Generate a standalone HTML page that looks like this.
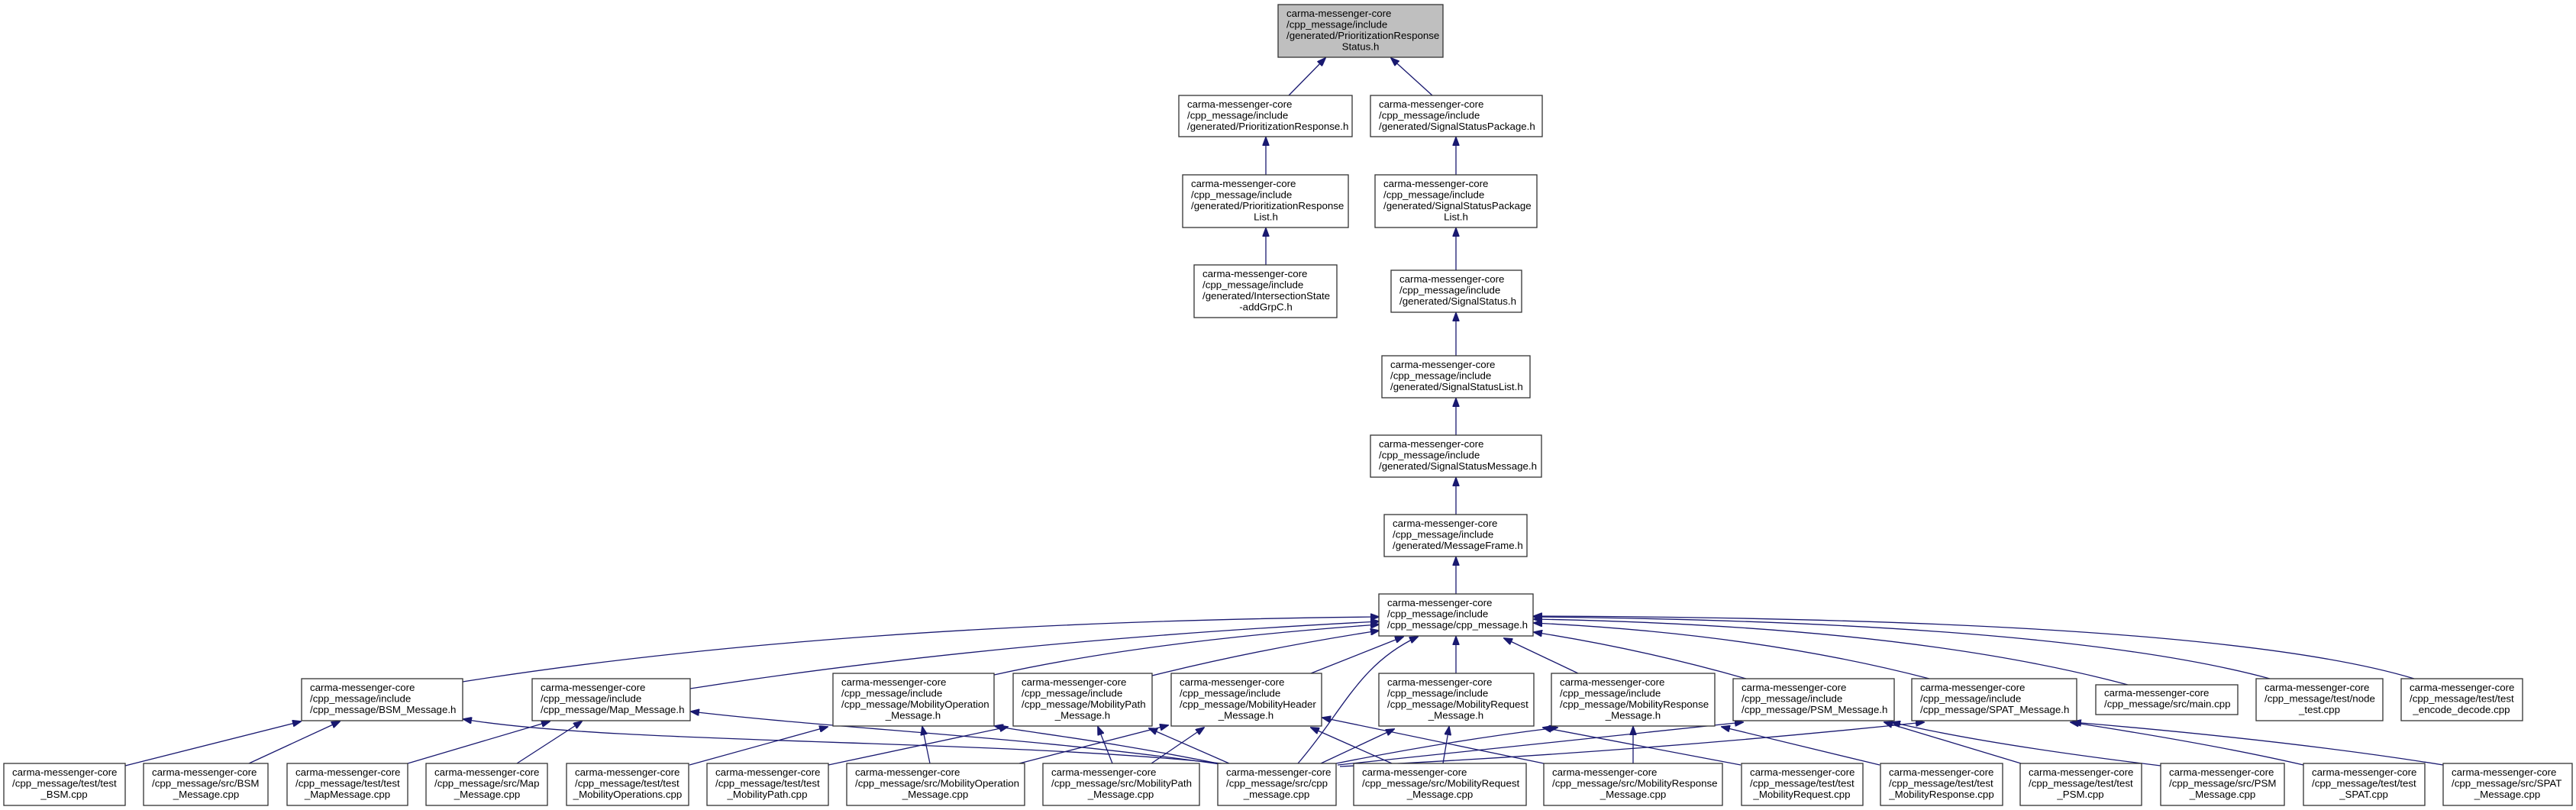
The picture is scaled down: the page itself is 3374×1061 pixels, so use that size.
<!DOCTYPE html>
<html><head><meta charset="utf-8"><style>
html,body{margin:0;padding:0;background:#fff;}
svg{display:block;}
text{font-family:"Liberation Sans",Arial,sans-serif;font-size:13.3px;fill:#000;}
.b{fill:#fff;stroke:#333;stroke-width:1.3;}
.e{fill:none;stroke:#191970;stroke-width:1.3;marker-end:url(#a);}
</style></head><body>
<svg width="3374" height="1061" viewBox="0 0 3374 1061" xmlns="http://www.w3.org/2000/svg">
<defs><marker id="a" viewBox="0 0 12 9" refX="11" refY="4.5" markerWidth="12" markerHeight="9" markerUnits="userSpaceOnUse" orient="auto"><path d="M0,0 L12,4.5 L0,9z" fill="#191970" stroke="#191970"/></marker></defs>

<!-- edges: top part -->
<path class="e" d="M1688,125 L1736,76"/>
<path class="e" d="M1876,125 L1822,76"/>
<path class="e" d="M1658,229 L1658,180"/>
<path class="e" d="M1658,347 L1658,299"/>
<path class="e" d="M1907,229 L1907,180"/>
<path class="e" d="M1907,354 L1907,299"/>
<path class="e" d="M1907,466 L1907,410"/>
<path class="e" d="M1907,570 L1907,522"/>
<path class="e" d="M1907,674 L1907,626"/>
<path class="e" d="M1907,778 L1907,730"/>

<!-- middle row -> cpp_message.h -->
<path class="e" d="M606,893 Q1100,815 1806,808"/>
<path class="e" d="M904,902 Q1300,840 1806,814"/>
<path class="e" d="M1302,884 Q1500,840 1806,818"/>
<path class="e" d="M1509,885 Q1650,850 1806,826"/>
<path class="e" d="M1717,882 L1838,834"/>
<path class="e" d="M1700,1000 C1760,930 1780,870 1857,834"/>
<path class="e" d="M1907,882 L1907,834"/>
<path class="e" d="M2067,882 L1970,836"/>
<path class="e" d="M2287,889 Q2150,850 2009,828"/>
<path class="e" d="M2527,889 Q2300,830 2009,816"/>
<path class="e" d="M2787,897 Q2500,820 2009,811"/>
<path class="e" d="M2973,889 Q2700,815 2009,808"/>
<path class="e" d="M3162,889 Q2900,810 2009,807"/>

<!-- bottom -> middle -->
<path class="e" d="M164,1003 L394,945"/>
<path class="e" d="M326,1000 L445,945"/>
<path class="e" d="M1600,1000 C1300,968 800,975 607,942"/>
<path class="e" d="M534,1000 L720,945"/>
<path class="e" d="M677,1000 L762,945"/>
<path class="e" d="M1605,1002 C1350,965 1100,955 905,932"/>
<path class="e" d="M903,1002 L1084,952"/>
<path class="e" d="M1218,1000 L1208,952"/>
<path class="e" d="M1610,1003 C1450,970 1350,960 1303,951"/>
<path class="e" d="M1085,1002 L1320,952"/>
<path class="e" d="M1457,1000 L1438,952"/>
<path class="e" d="M1610,1000 L1505,954"/>
<path class="e" d="M1335,1000 L1530,950"/>
<path class="e" d="M1508,1000 L1577,953"/>
<path class="e" d="M1823,1000 L1717,953"/>
<path class="e" d="M2022,1000 L1732,940"/>
<path class="e" d="M1890,1000 L1898,952"/>
<path class="e" d="M1730,1000 L1826,955"/>
<path class="e" d="M2280,1002 L2021,953"/>
<path class="e" d="M2139,1000 L2139,952"/>
<path class="e" d="M1750,1000 Q1900,970 2040,953"/>
<path class="e" d="M2462,1002 L2255,952"/>
<path class="e" d="M1752,1002 Q2000,975 2283,946"/>
<path class="e" d="M2647,1000 L2468,946"/>
<path class="e" d="M2830,1003 Q2600,975 2478,946"/>
<path class="e" d="M1755,1004 Q2150,985 2520,946"/>
<path class="e" d="M3017,1002 Q2900,975 2712,946"/>
<path class="e" d="M3200,1002 Q3000,970 2715,946"/>

<!-- nodes -->
<g>
<rect x="1674" y="6" width="216" height="69" style="fill:#bfbfbf;stroke:#333;stroke-width:1.3"/>
<text x="1685" y="22">carma-messenger-core</text><text x="1685" y="36.5">/cpp_message/include</text><text x="1685" y="51">/generated/PrioritizationResponse</text><text x="1782" y="65.5" text-anchor="middle">Status.h</text>

<rect class="b" x="1544" y="125" width="227" height="54"/>
<text x="1555" y="141">carma-messenger-core</text><text x="1555" y="155.5">/cpp_message/include</text><text x="1555" y="170">/generated/PrioritizationResponse.h</text>

<rect class="b" x="1795" y="125" width="225" height="54"/>
<text x="1806" y="141">carma-messenger-core</text><text x="1806" y="155.5">/cpp_message/include</text><text x="1806" y="170">/generated/SignalStatusPackage.h</text>

<rect class="b" x="1549" y="229" width="217" height="69"/>
<text x="1560" y="245">carma-messenger-core</text><text x="1560" y="259.5">/cpp_message/include</text><text x="1560" y="274">/generated/PrioritizationResponse</text><text x="1658" y="288.5" text-anchor="middle">List.h</text>

<rect class="b" x="1801" y="229" width="212" height="69"/>
<text x="1812" y="245">carma-messenger-core</text><text x="1812" y="259.5">/cpp_message/include</text><text x="1812" y="274">/generated/SignalStatusPackage</text><text x="1907" y="288.5" text-anchor="middle">List.h</text>

<rect class="b" x="1564" y="347" width="187" height="69"/>
<text x="1575" y="363">carma-messenger-core</text><text x="1575" y="377.5">/cpp_message/include</text><text x="1575" y="392">/generated/IntersectionState</text><text x="1658" y="406.5" text-anchor="middle">-addGrpC.h</text>

<rect class="b" x="1822" y="354" width="171" height="55"/>
<text x="1833" y="370">carma-messenger-core</text><text x="1833" y="384.5">/cpp_message/include</text><text x="1833" y="399">/generated/SignalStatus.h</text>

<rect class="b" x="1810" y="466" width="194" height="55"/>
<text x="1821" y="482">carma-messenger-core</text><text x="1821" y="496.5">/cpp_message/include</text><text x="1821" y="511">/generated/SignalStatusList.h</text>

<rect class="b" x="1795" y="570" width="224" height="55"/>
<text x="1806" y="586">carma-messenger-core</text><text x="1806" y="600.5">/cpp_message/include</text><text x="1806" y="615">/generated/SignalStatusMessage.h</text>

<rect class="b" x="1813" y="674" width="187" height="55"/>
<text x="1824" y="690">carma-messenger-core</text><text x="1824" y="704.5">/cpp_message/include</text><text x="1824" y="719">/generated/MessageFrame.h</text>

<rect class="b" x="1806" y="778" width="202" height="55"/>
<text x="1817" y="794">carma-messenger-core</text><text x="1817" y="808.5">/cpp_message/include</text><text x="1817" y="823">/cpp_message/cpp_message.h</text>

<!-- middle row -->
<rect class="b" x="395" y="889" width="211" height="55"/>
<text x="406" y="905">carma-messenger-core</text><text x="406" y="919.5">/cpp_message/include</text><text x="406" y="934">/cpp_message/BSM_Message.h</text>

<rect class="b" x="697" y="889" width="207" height="55"/>
<text x="708" y="905">carma-messenger-core</text><text x="708" y="919.5">/cpp_message/include</text><text x="708" y="934">/cpp_message/Map_Message.h</text>

<rect class="b" x="1091" y="882" width="211" height="69"/>
<text x="1102" y="898">carma-messenger-core</text><text x="1102" y="912.5">/cpp_message/include</text><text x="1102" y="927">/cpp_message/MobilityOperation</text><text x="1196" y="941.5" text-anchor="middle">_Message.h</text>

<rect class="b" x="1327" y="882" width="182" height="69"/>
<text x="1338" y="898">carma-messenger-core</text><text x="1338" y="912.5">/cpp_message/include</text><text x="1338" y="927">/cpp_message/MobilityPath</text><text x="1418" y="941.5" text-anchor="middle">_Message.h</text>

<rect class="b" x="1534" y="882" width="197" height="69"/>
<text x="1545" y="898">carma-messenger-core</text><text x="1545" y="912.5">/cpp_message/include</text><text x="1545" y="927">/cpp_message/MobilityHeader</text><text x="1632" y="941.5" text-anchor="middle">_Message.h</text>

<rect class="b" x="1806" y="882" width="203" height="69"/>
<text x="1817" y="898">carma-messenger-core</text><text x="1817" y="912.5">/cpp_message/include</text><text x="1817" y="927">/cpp_message/MobilityRequest</text><text x="1907" y="941.5" text-anchor="middle">_Message.h</text>

<rect class="b" x="2032" y="882" width="214" height="69"/>
<text x="2043" y="898">carma-messenger-core</text><text x="2043" y="912.5">/cpp_message/include</text><text x="2043" y="927">/cpp_message/MobilityResponse</text><text x="2139" y="941.5" text-anchor="middle">_Message.h</text>

<rect class="b" x="2270" y="889" width="211" height="55"/>
<text x="2281" y="905">carma-messenger-core</text><text x="2281" y="919.5">/cpp_message/include</text><text x="2281" y="934">/cpp_message/PSM_Message.h</text>

<rect class="b" x="2504" y="889" width="216" height="55"/>
<text x="2515" y="905">carma-messenger-core</text><text x="2515" y="919.5">/cpp_message/include</text><text x="2515" y="934">/cpp_message/SPAT_Message.h</text>

<rect class="b" x="2745" y="897" width="186" height="39"/>
<text x="2756" y="912">carma-messenger-core</text><text x="2756" y="926.5">/cpp_message/src/main.cpp</text>

<rect class="b" x="2955" y="889" width="166" height="55"/>
<text x="2966" y="905">carma-messenger-core</text><text x="2966" y="919.5">/cpp_message/test/node</text><text x="3038" y="934" text-anchor="middle">_test.cpp</text>

<rect class="b" x="3145" y="889" width="159" height="55"/>
<text x="3156" y="905">carma-messenger-core</text><text x="3156" y="919.5">/cpp_message/test/test</text><text x="3224" y="934" text-anchor="middle">_encode_decode.cpp</text>

<!-- bottom row -->
<rect class="b" x="5" y="1000" width="159" height="55"/>
<text x="16" y="1016">carma-messenger-core</text><text x="16" y="1030.5">/cpp_message/test/test</text><text x="84" y="1045" text-anchor="middle">_BSM.cpp</text>

<rect class="b" x="188" y="1000" width="163" height="55"/>
<text x="199" y="1016">carma-messenger-core</text><text x="199" y="1030.5">/cpp_message/src/BSM</text><text x="270" y="1045" text-anchor="middle">_Message.cpp</text>

<rect class="b" x="376" y="1000" width="158" height="55"/>
<text x="387" y="1016">carma-messenger-core</text><text x="387" y="1030.5">/cpp_message/test/test</text><text x="455" y="1045" text-anchor="middle">_MapMessage.cpp</text>

<rect class="b" x="558" y="1000" width="159" height="55"/>
<text x="569" y="1016">carma-messenger-core</text><text x="569" y="1030.5">/cpp_message/src/Map</text><text x="638" y="1045" text-anchor="middle">_Message.cpp</text>

<rect class="b" x="742" y="1000" width="160" height="55"/>
<text x="753" y="1016">carma-messenger-core</text><text x="753" y="1030.5">/cpp_message/test/test</text><text x="822" y="1045" text-anchor="middle">_MobilityOperations.cpp</text>

<rect class="b" x="926" y="1000" width="159" height="55"/>
<text x="937" y="1016">carma-messenger-core</text><text x="937" y="1030.5">/cpp_message/test/test</text><text x="1005" y="1045" text-anchor="middle">_MobilityPath.cpp</text>

<rect class="b" x="1109" y="1000" width="233" height="55"/>
<text x="1120" y="1016">carma-messenger-core</text><text x="1120" y="1030.5">/cpp_message/src/MobilityOperation</text><text x="1225" y="1045" text-anchor="middle">_Message.cpp</text>

<rect class="b" x="1366" y="1000" width="205" height="55"/>
<text x="1377" y="1016">carma-messenger-core</text><text x="1377" y="1030.5">/cpp_message/src/MobilityPath</text><text x="1468" y="1045" text-anchor="middle">_Message.cpp</text>

<rect class="b" x="1595" y="1000" width="155" height="55"/>
<text x="1606" y="1016">carma-messenger-core</text><text x="1606" y="1030.5">/cpp_message/src/cpp</text><text x="1672" y="1045" text-anchor="middle">_message.cpp</text>

<rect class="b" x="1773" y="1000" width="226" height="55"/>
<text x="1784" y="1016">carma-messenger-core</text><text x="1784" y="1030.5">/cpp_message/src/MobilityRequest</text><text x="1886" y="1045" text-anchor="middle">_Message.cpp</text>

<rect class="b" x="2022" y="1000" width="234" height="55"/>
<text x="2033" y="1016">carma-messenger-core</text><text x="2033" y="1030.5">/cpp_message/src/MobilityResponse</text><text x="2139" y="1045" text-anchor="middle">_Message.cpp</text>

<rect class="b" x="2281" y="1000" width="159" height="55"/>
<text x="2292" y="1016">carma-messenger-core</text><text x="2292" y="1030.5">/cpp_message/test/test</text><text x="2360" y="1045" text-anchor="middle">_MobilityRequest.cpp</text>

<rect class="b" x="2463" y="1000" width="160" height="55"/>
<text x="2474" y="1016">carma-messenger-core</text><text x="2474" y="1030.5">/cpp_message/test/test</text><text x="2543" y="1045" text-anchor="middle">_MobilityResponse.cpp</text>

<rect class="b" x="2646" y="1000" width="159" height="55"/>
<text x="2657" y="1016">carma-messenger-core</text><text x="2657" y="1030.5">/cpp_message/test/test</text><text x="2725" y="1045" text-anchor="middle">_PSM.cpp</text>

<rect class="b" x="2830" y="1000" width="162" height="55"/>
<text x="2841" y="1016">carma-messenger-core</text><text x="2841" y="1030.5">/cpp_message/src/PSM</text><text x="2911" y="1045" text-anchor="middle">_Message.cpp</text>

<rect class="b" x="3017" y="1000" width="159" height="55"/>
<text x="3028" y="1016">carma-messenger-core</text><text x="3028" y="1030.5">/cpp_message/test/test</text><text x="3096" y="1045" text-anchor="middle">_SPAT.cpp</text>

<rect class="b" x="3200" y="1000" width="169" height="55"/>
<text x="3211" y="1016">carma-messenger-core</text><text x="3211" y="1030.5">/cpp_message/src/SPAT</text><text x="3284" y="1045" text-anchor="middle">_Message.cpp</text>
</g>
</svg>
</body></html>
